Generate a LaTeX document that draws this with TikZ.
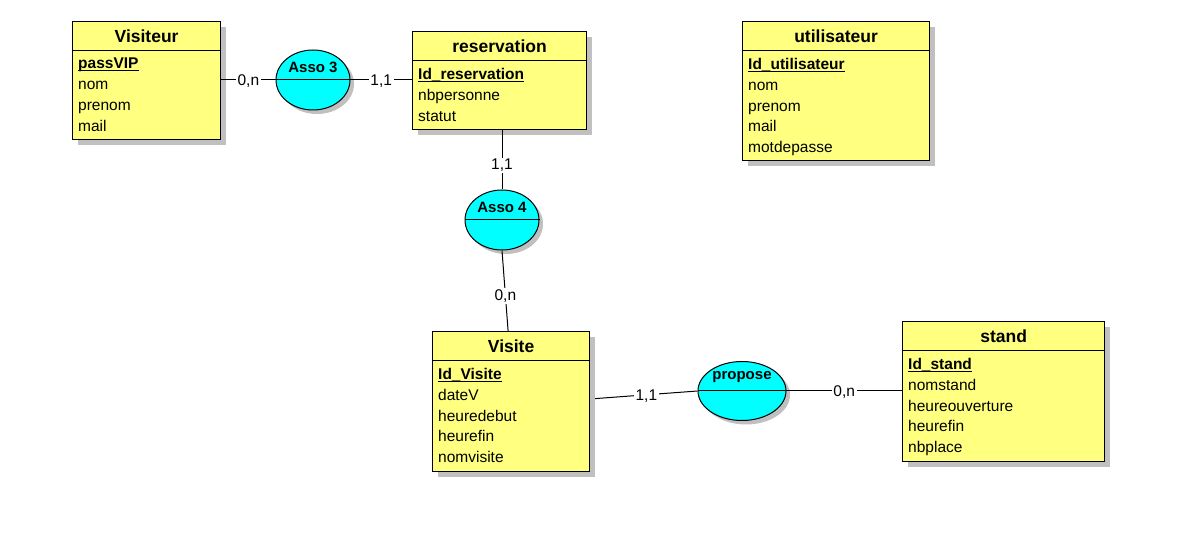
\documentclass[tikz,border=0pt]{standalone}
\usepackage{fontspec}
\setmainfont{Liberation Sans}
\usetikzlibrary{positioning, shapes.geometric, shadows}
\definecolor{entityfill}{HTML}{FFFF80}
\definecolor{assocfill}{HTML}{00FFFF}
\definecolor{shadowgray}{HTML}{C0C0C0}
\newsavebox{\keybox}
\newcommand{\keyattr}[1]{\sbox{\keybox}{\bfseries #1}\rlap{\rule[-2.5pt]{\wd\keybox}{1.2pt}}\usebox{\keybox}}
\tikzset{
    entity/.style={
        draw, fill=entityfill, line width=1.2pt,
        anchor=north west, inner sep=0pt,
        drop shadow={shadow xshift=5pt, shadow yshift=-5pt, fill=shadowgray, opacity=1}
    },
    entitytitle/.style={font=\fontsize{17.5}{20}\selectfont\bfseries},
    attrs/.style={
        anchor=north west, inner sep=0pt, align=left,
        font=\fontsize{15.5}{20.8}\selectfont
    },
    assoc/.style={
        draw, ellipse, fill=assocfill, line width=1pt,
        minimum width=74pt, minimum height=60pt,
        drop shadow={shadow xshift=4pt, shadow yshift=-4pt, fill=shadowgray, opacity=1}
    },
    assoclabel/.style={font=\fontsize{15}{17}\selectfont\bfseries},
    card/.style={fill=white, inner sep=1.5pt, yshift=-1.5pt, font=\fontsize{15.5}{18}\selectfont},
    link/.style={line width=1pt}
}
\begin{document}
\begin{tikzpicture}[x=1pt, y=-1pt]
    \path[fill=white, use as bounding box] (0,0) rectangle (1203,537);

    % Entities
    \node[entity, minimum width=148pt, minimum height=118pt] (visiteur) at (72,21) {};
    \node[entitytitle] at ([yshift=-15pt]visiteur.north) {Visiteur};
    \draw[link] ([yshift=-30pt]visiteur.north west) -- ([yshift=-30pt]visiteur.north east);
    \node[attrs] (visiteurAttr) at ([xshift=6pt, yshift=-37pt]visiteur.north west)
        {\keyattr{passVIP}\\nom\\prenom\\mail};

    \node[entity, minimum width=174pt, minimum height=98pt] (reservation) at (412,31) {};
    \node[entitytitle] at ([yshift=-15pt]reservation.north) {reservation};
    \draw[link] ([yshift=-30pt]reservation.north west) -- ([yshift=-30pt]reservation.north east);
    \node[attrs] (reservationAttr) at ([xshift=6pt, yshift=-37pt]reservation.north west)
        {\keyattr{Id\_reservation}\\nbpersonne\\statut};

    \node[entity, minimum width=187pt, minimum height=139pt] (utilisateur) at (742,21) {};
    \node[entitytitle] at ([yshift=-15pt]utilisateur.north) {utilisateur};
    \draw[link] ([yshift=-30pt]utilisateur.north west) -- ([yshift=-30pt]utilisateur.north east);
    \node[attrs] (utilisateurAttr) at ([xshift=6pt, yshift=-37pt]utilisateur.north west)
        {\keyattr{Id\_utilisateur}\\nom\\prenom\\mail\\motdepasse};

    \node[entity, minimum width=157pt, minimum height=140pt] (visite) at (432,331) {};
    \node[entitytitle] at ([yshift=-15pt]visite.north) {Visite};
    \draw[link] ([yshift=-30pt]visite.north west) -- ([yshift=-30pt]visite.north east);
    \node[attrs] (visiteAttr) at ([xshift=6pt, yshift=-37pt]visite.north west)
        {\keyattr{Id\_Visite}\\dateV\\heuredebut\\heurefin\\nomvisite};

    \node[entity, minimum width=202pt, minimum height=140pt] (stand) at (902,321) {};
    \node[entitytitle] at ([yshift=-15pt]stand.north) {stand};
    \draw[link] ([yshift=-30pt]stand.north west) -- ([yshift=-30pt]stand.north east);
    \node[attrs] (standAttr) at ([xshift=6pt, yshift=-37pt]stand.north west)
        {\keyattr{Id\_stand}\\nomstand\\heureouverture\\heurefin\\nbplace};

    % Associations
    \node[assoc] (asso3) at (313,80) {};
    \draw[link] (asso3.west) -- (asso3.east);
    \node[assoclabel] at ([yshift=13pt]asso3.center) {Asso 3};

    \node[assoc] (asso4) at (502,220) {};
    \draw[link] (asso4.west) -- (asso4.east);
    \node[assoclabel] at ([yshift=13pt]asso4.center) {Asso 4};

    \node[assoc, minimum width=88pt, minimum height=59pt] (propose) at (742,391) {};
    \draw[link] (propose.west) -- (propose.east);
    \node[assoclabel] at ([yshift=14pt]propose.center) {propose};

    % Links
    \draw[link] (visiteur.east |- asso3) -- node[card] {0,n} (asso3.west);
    \draw[link] (asso3.east) -- node[card] {1,1} (reservation.west |- asso3);
    \draw[link] (asso4.north |- reservation.south) -- node[card, pos=0.57] {1,1} (asso4.north);
    \draw[link] (asso4.south) -- node[card, pos=0.55] {0,n} ([xshift=-3pt]visite.north);
    \draw[link] ([xshift=5pt, yshift=3pt]visite.east) -- node[card] {1,1} (propose.west);
    \draw[link] (propose.east) -- node[card] {0,n} (stand.west |- propose);
\end{tikzpicture}
\end{document}
